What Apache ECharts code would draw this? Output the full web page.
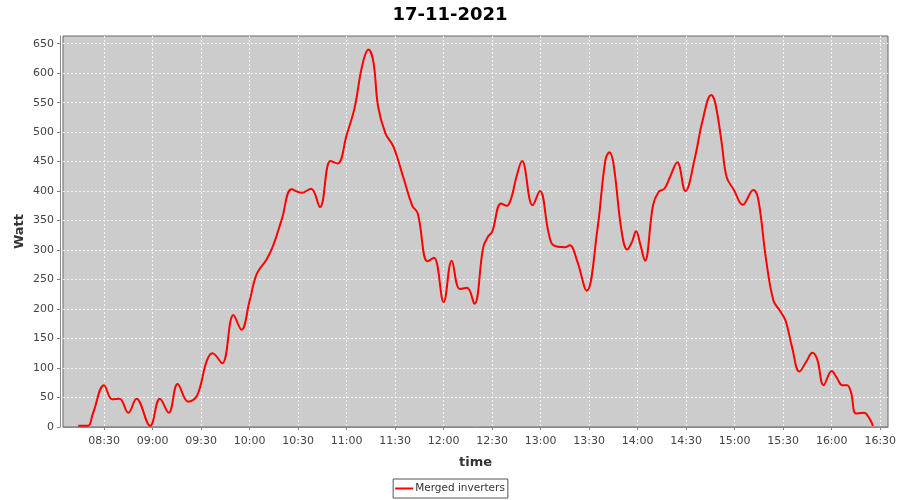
<!DOCTYPE html>
<html>
<head>
<meta charset="utf-8">
<title>17-11-2021</title>
<script src="https://cdn.jsdelivr.net/npm/echarts@6/dist/echarts.min.js"></script>
<style>
  html, body { margin: 0; padding: 0; background: #fff; }
  #chart { width: 900px; height: 500px; }
</style>
</head>
<body>
<div id="chart"></div>
<script>
// sample times (HH:MM or HH:MM:SS) and power
const times = [
  "08:14", "08:20", "08:23", "08:30", "08:35", "08:39:30", "08:45", "08:50", "08:58:30",
  "09:04:30", "09:10", "09:15:30", "09:22", "09:27:30", "09:33:30", "09:37", "09:43", "09:50", "09:55",
  "10:00", "10:04:30", "10:10:30", "10:14:30", "10:20", "10:26", "10:32", "10:38", "10:43:30", "10:50", "10:54:30",
  "11:00", "11:05", "11:09:30", "11:13:30", "11:16:30", "11:19:30", "11:24", "11:29", "11:35", "11:40:30", "11:44", "11:50", "11:54",
  "12:00", "12:05", "12:10", "12:14:30", "12:19", "12:24:30", "12:27:30", "12:30", "12:35:30", "12:39", "12:42", "12:45", "12:48:30", "12:55", "12:59:30",
  "13:05", "13:08", "13:15", "13:18", "13:22:30", "13:28:30", "13:35", "13:40", "13:42:30", "13:45", "13:50", "13:53:30", "13:56:30", "13:59",
  "14:01:30", "14:04:30", "14:09:30", "14:13", "14:16:30", "14:20", "14:24:30", "14:29:30", "14:35:30", "14:40", "14:45:30", "14:48", "14:52", "14:55", "14:59:30",
  "15:05", "15:11:30", "15:14:30", "15:19:30", "15:24", "15:28", "15:31:30", "15:35:30", "15:40", "15:44:30", "15:48", "15:51", "15:55",
  "16:00", "16:03", "16:06:30", "16:09:30", "16:12", "16:15", "16:20", "16:23", "16:25:30"
];
const watts = [
  2, 2, 22, 71, 47, 48, 24, 48, 2,
  48, 24, 73, 43, 53, 112, 125, 108, 190, 165,
  214, 260, 284, 307, 353, 403, 397, 404, 373, 451, 447,
  495, 542, 611, 640, 620, 543, 498, 475, 424, 376, 362, 281, 287,
  212, 282, 234, 236, 209, 305, 323, 331, 379, 375, 390, 424, 451, 376, 400,
  328, 308, 305, 308, 282, 231, 333, 452, 466, 447, 333, 301, 314, 332,
  311, 282, 376, 399, 404, 424, 449, 400, 458, 518, 563, 549, 481, 424, 402,
  377, 402, 387, 282, 214, 197, 180, 135, 94, 112, 126, 115, 71,
  95, 84, 71, 71, 58, 23, 24, 16, 2
];
const timeTicks = ["08:30", "09:00", "09:30", "10:00", "10:30", "11:00", "11:30", "12:00", "12:30",
  "13:00", "13:30", "14:00", "14:30", "15:00", "15:30", "16:00", "16:30"];
const wattTicks = [0, 50, 100, 150, 200, 250, 300, 350, 400, 450, 500, 550, 600, 650];

// HH:MM[:SS] -> minutes since midnight
function toMin(s) {
  const p = s.split(":").map(Number);
  return p[0] * 60 + p[1] + (p[2] || 0) / 60;
}
function fmt(m) {
  const h = Math.floor(m / 60), mm = Math.round(m % 60);
  return (h < 10 ? "0" : "") + h + ":" + (mm < 10 ? "0" : "") + mm;
}

const chart = echarts.init(document.getElementById("chart"));
const font = "DejaVu Sans";

const option = {
  animation: false,
  textStyle: { fontFamily: font },
  title: {
    text: "17-11-2021",
    left: "center",
    top: 1,
    textStyle: { fontFamily: font, fontSize: 18, fontWeight: "bold", color: "#000" }
  },
  legend: {
    bottom: 2,
    left: "center",
    data: ["Merged inverters"],
    icon: "rect",
    itemWidth: 18,
    itemHeight: 2,
    padding: [4, 3, 4, 2],
    borderColor: "#555",
    borderWidth: 1,
    borderRadius: 0,
    textStyle: { fontFamily: font, fontSize: 10.5, color: "#333", padding: [0, 0, 0, -3] }
  },
  grid: {
    left: 63,
    right: 12,
    top: 36,
    bottom: 73,
    show: true,
    backgroundColor: "#cccccc",
    borderColor: "#666",
    borderWidth: 1
  },
  xAxis: {
    type: "value",
    min: 484.6,
    max: 994.8,
    offset: 3,
    name: "time",
    nameLocation: "middle",
    nameGap: 26,
    nameMoveOverlap: false,
    nameTextStyle: { fontFamily: font, fontSize: 13, fontWeight: "bold", color: "#333" },
    axisLine: { lineStyle: { color: "#888", width: 1 } },
    axisTick: { customValues: timeTicks.map(toMin), length: 3, lineStyle: { color: "#888" } },
    axisLabel: {
      customValues: timeTicks.map(toMin),
      formatter: v => fmt(v),
      color: "#444",
      fontSize: 11,
      margin: 6
    },
    splitLine: { show: true, lineStyle: { color: "#f4f4f4", width: 1, type: [2, 2] } }
  },
  yAxis: {
    type: "value",
    min: 0,
    max: 663,
    offset: 3,
    name: "Watt",
    nameLocation: "middle",
    nameGap: 34,
    nameMoveOverlap: false,
    nameTextStyle: { fontFamily: font, fontSize: 13, fontWeight: "bold", color: "#333" },
    axisLine: { show: true, lineStyle: { color: "#888", width: 1 } },
    axisTick: { show: true, customValues: wattTicks, length: 3, lineStyle: { color: "#888" } },
    axisLabel: { customValues: wattTicks, color: "#444", fontSize: 11, margin: 6 },
    splitLine: { show: true, lineStyle: { color: "#f4f4f4", width: 1, type: [2, 2] } }
  },
  series: [
    {
      name: "Merged inverters",
      type: "line",
      smooth: 0.4,
      showSymbol: false,
      clip: true,
      lineStyle: { color: "#ff0000", width: 2 },
      itemStyle: { color: "#ff0000" },
      data: times.map((t, i) => [toMin(t), watts[i]])
    }
  ]
};

chart.setOption(option);
</script>
</body>
</html>
